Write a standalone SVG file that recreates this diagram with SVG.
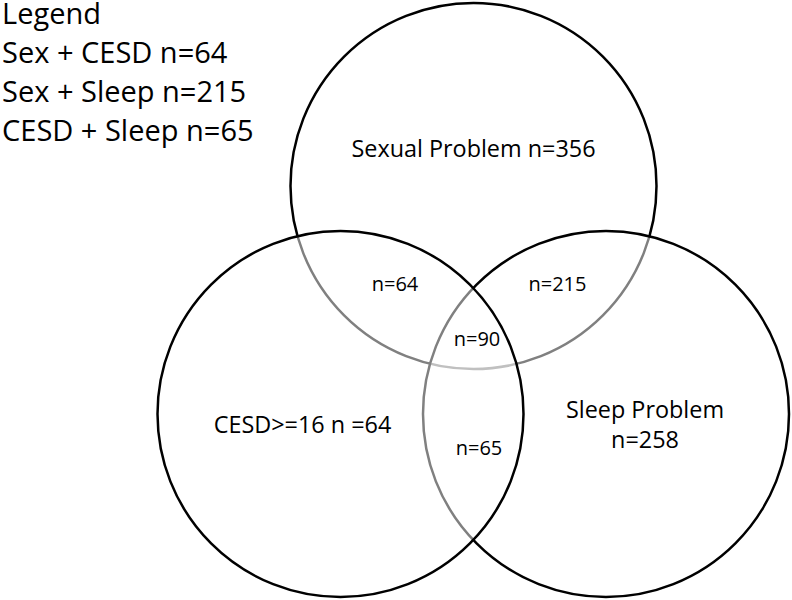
<svg xmlns="http://www.w3.org/2000/svg" width="792" height="600" viewBox="0 0 792 600">
<style>
.set{fill:#ffffff;fill-opacity:0.5;stroke:#000000;stroke-width:2.5}
text{font-family:"Open Sans","Noto Sans","DejaVu Sans",sans-serif;fill:#000000}
.lg{font-size:29px}
.lb{font-size:23.4px;text-anchor:middle}
.ov{font-size:20px;text-anchor:middle}
</style>
<rect x="0" y="0" width="792" height="600" fill="#ffffff"/>
<g id="legend">
<text class="lg" x="2" y="24">Legend</text>
<text class="lg" x="2" y="63">Sex + CESD n=64</text>
<text class="lg" x="2" y="102">Sex + Sleep n=215</text>
<text class="lg" x="2" y="141">CESD + Sleep n=65</text>
</g>
<g id="sexual-problem">
<circle class="set" cx="473.5" cy="186" r="183"/>
<text class="lb" x="473.5" y="157">Sexual Problem n=356</text>
</g>
<g id="sleep-problem">
<circle class="set" cx="606" cy="414" r="183"/>
<text class="lb" x="645" y="418">Sleep Problem</text>
<text class="lb" x="645" y="448">n=258</text>
</g>
<g id="cesd">
<circle class="set" cx="340.5" cy="414" r="183"/>
<text class="lb" x="302.5" y="433">CESD&gt;=16 n =64</text>
</g>
<g id="overlaps">
<text class="ov" x="395" y="291">n=64</text>
<text class="ov" x="557.5" y="291">n=215</text>
<text class="ov" x="477" y="346">n=90</text>
<text class="ov" x="479" y="455">n=65</text>
</g>
</svg>
